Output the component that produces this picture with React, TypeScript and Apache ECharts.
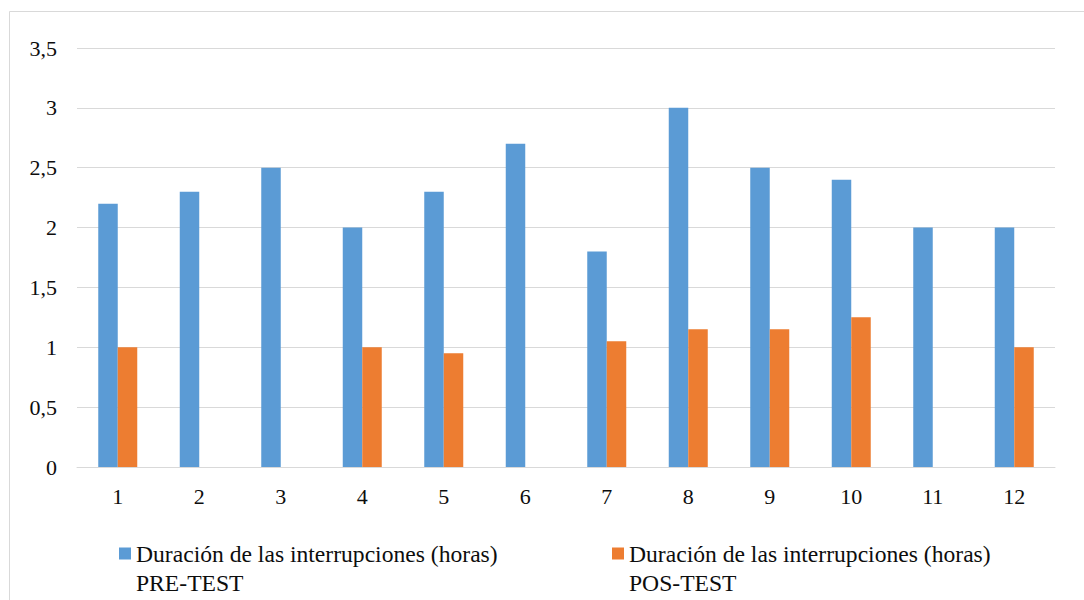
import React, { useEffect, useRef } from "react";
import * as echarts from "echarts";

const categories = ["1", "2", "3", "4", "5", "6", "7", "8", "9", "10", "11", "12"];
const yTickLabels = ["0", "0,5", "1", "1,5", "2", "2,5", "3", "3,5"];
const preTest = [2.2, 2.3, 2.5, 2.0, 2.3, 2.7, 1.8, 3.0, 2.5, 2.4, 2.0, 2.0];
const posTest = [1.0, null, null, 1.0, 0.95, null, 1.05, 1.15, 1.15, 1.25, null, 1.0];
const seriesNames = [
  "Duración de las interrupciones (horas)\nPRE-TEST",
  "Duración de las interrupciones (horas)\nPOS-TEST",
];

const FONT = "Liberation Serif";
const TEXT_COLOR = "#0d0d0d";

export default function App() {
  const ref = useRef<HTMLDivElement>(null);
  useEffect(() => {
    document.body.style.margin = "0";
    const chart = echarts.init(ref.current!, null, { renderer: "svg" });
    const legendCommon = {
      orient: "horizontal",
      padding: 0,
      itemWidth: 12,
      itemHeight: 12,
      itemGap: 5,
      icon: "rect",
      formatter: (name: string) => "\n" + name,
      textStyle: {
        fontFamily: FONT,
        fontSize: 23.6,
        color: TEXT_COLOR,
        lineHeight: 29,
      },
    };
    chart.setOption({
      animation: false,
      textStyle: { fontFamily: FONT, fontSize: 22 },
      color: ["#5B9BD5", "#ED7D31"],
      graphic: [
        {
          type: "rect",
          shape: { x: 9.5, y: 11.5, width: 1200, height: 800 },
          style: { fill: "none", stroke: "#D9D9D9", lineWidth: 1 },
          silent: true,
        },
      ],
      grid: { left: 77, right: 29, top: 48, bottom: 133, containLabel: false },
      legend: [
        { ...legendCommon, data: [seriesNames[0]], left: 119, top: 510 },
        { ...legendCommon, data: [seriesNames[1]], left: 612, top: 510 },
      ],
      xAxis: {
        type: "category",
        data: categories,
        axisTick: { show: false },
        axisLine: { lineStyle: { color: "#D9D9D9", width: 1 } },
        axisLabel: { fontFamily: FONT, fontSize: 22, color: TEXT_COLOR, margin: 18 },
      },
      yAxis: {
        type: "value",
        min: 0,
        max: 3.5,
        interval: 0.5,
        axisLine: { show: false },
        axisTick: { show: false },
        splitLine: { lineStyle: { color: "#D9D9D9", width: 1 } },
        axisLabel: {
          fontFamily: FONT,
          fontSize: 22,
          color: TEXT_COLOR,
          margin: 20,
          formatter: (v: number) => yTickLabels[Math.round(v / 0.5)] ?? String(v).replace(".", ","),
        },
      },
      series: [
        { name: seriesNames[0], type: "bar", data: preTest, barWidth: 19.5, barGap: "0%" },
        { name: seriesNames[1], type: "bar", data: posTest, barWidth: 19.5, barGap: "0%" },
      ],
    });
    return () => chart.dispose();
  }, []);
  return <div ref={ref} style={{ width: 1084, height: 600 }} />;
}
